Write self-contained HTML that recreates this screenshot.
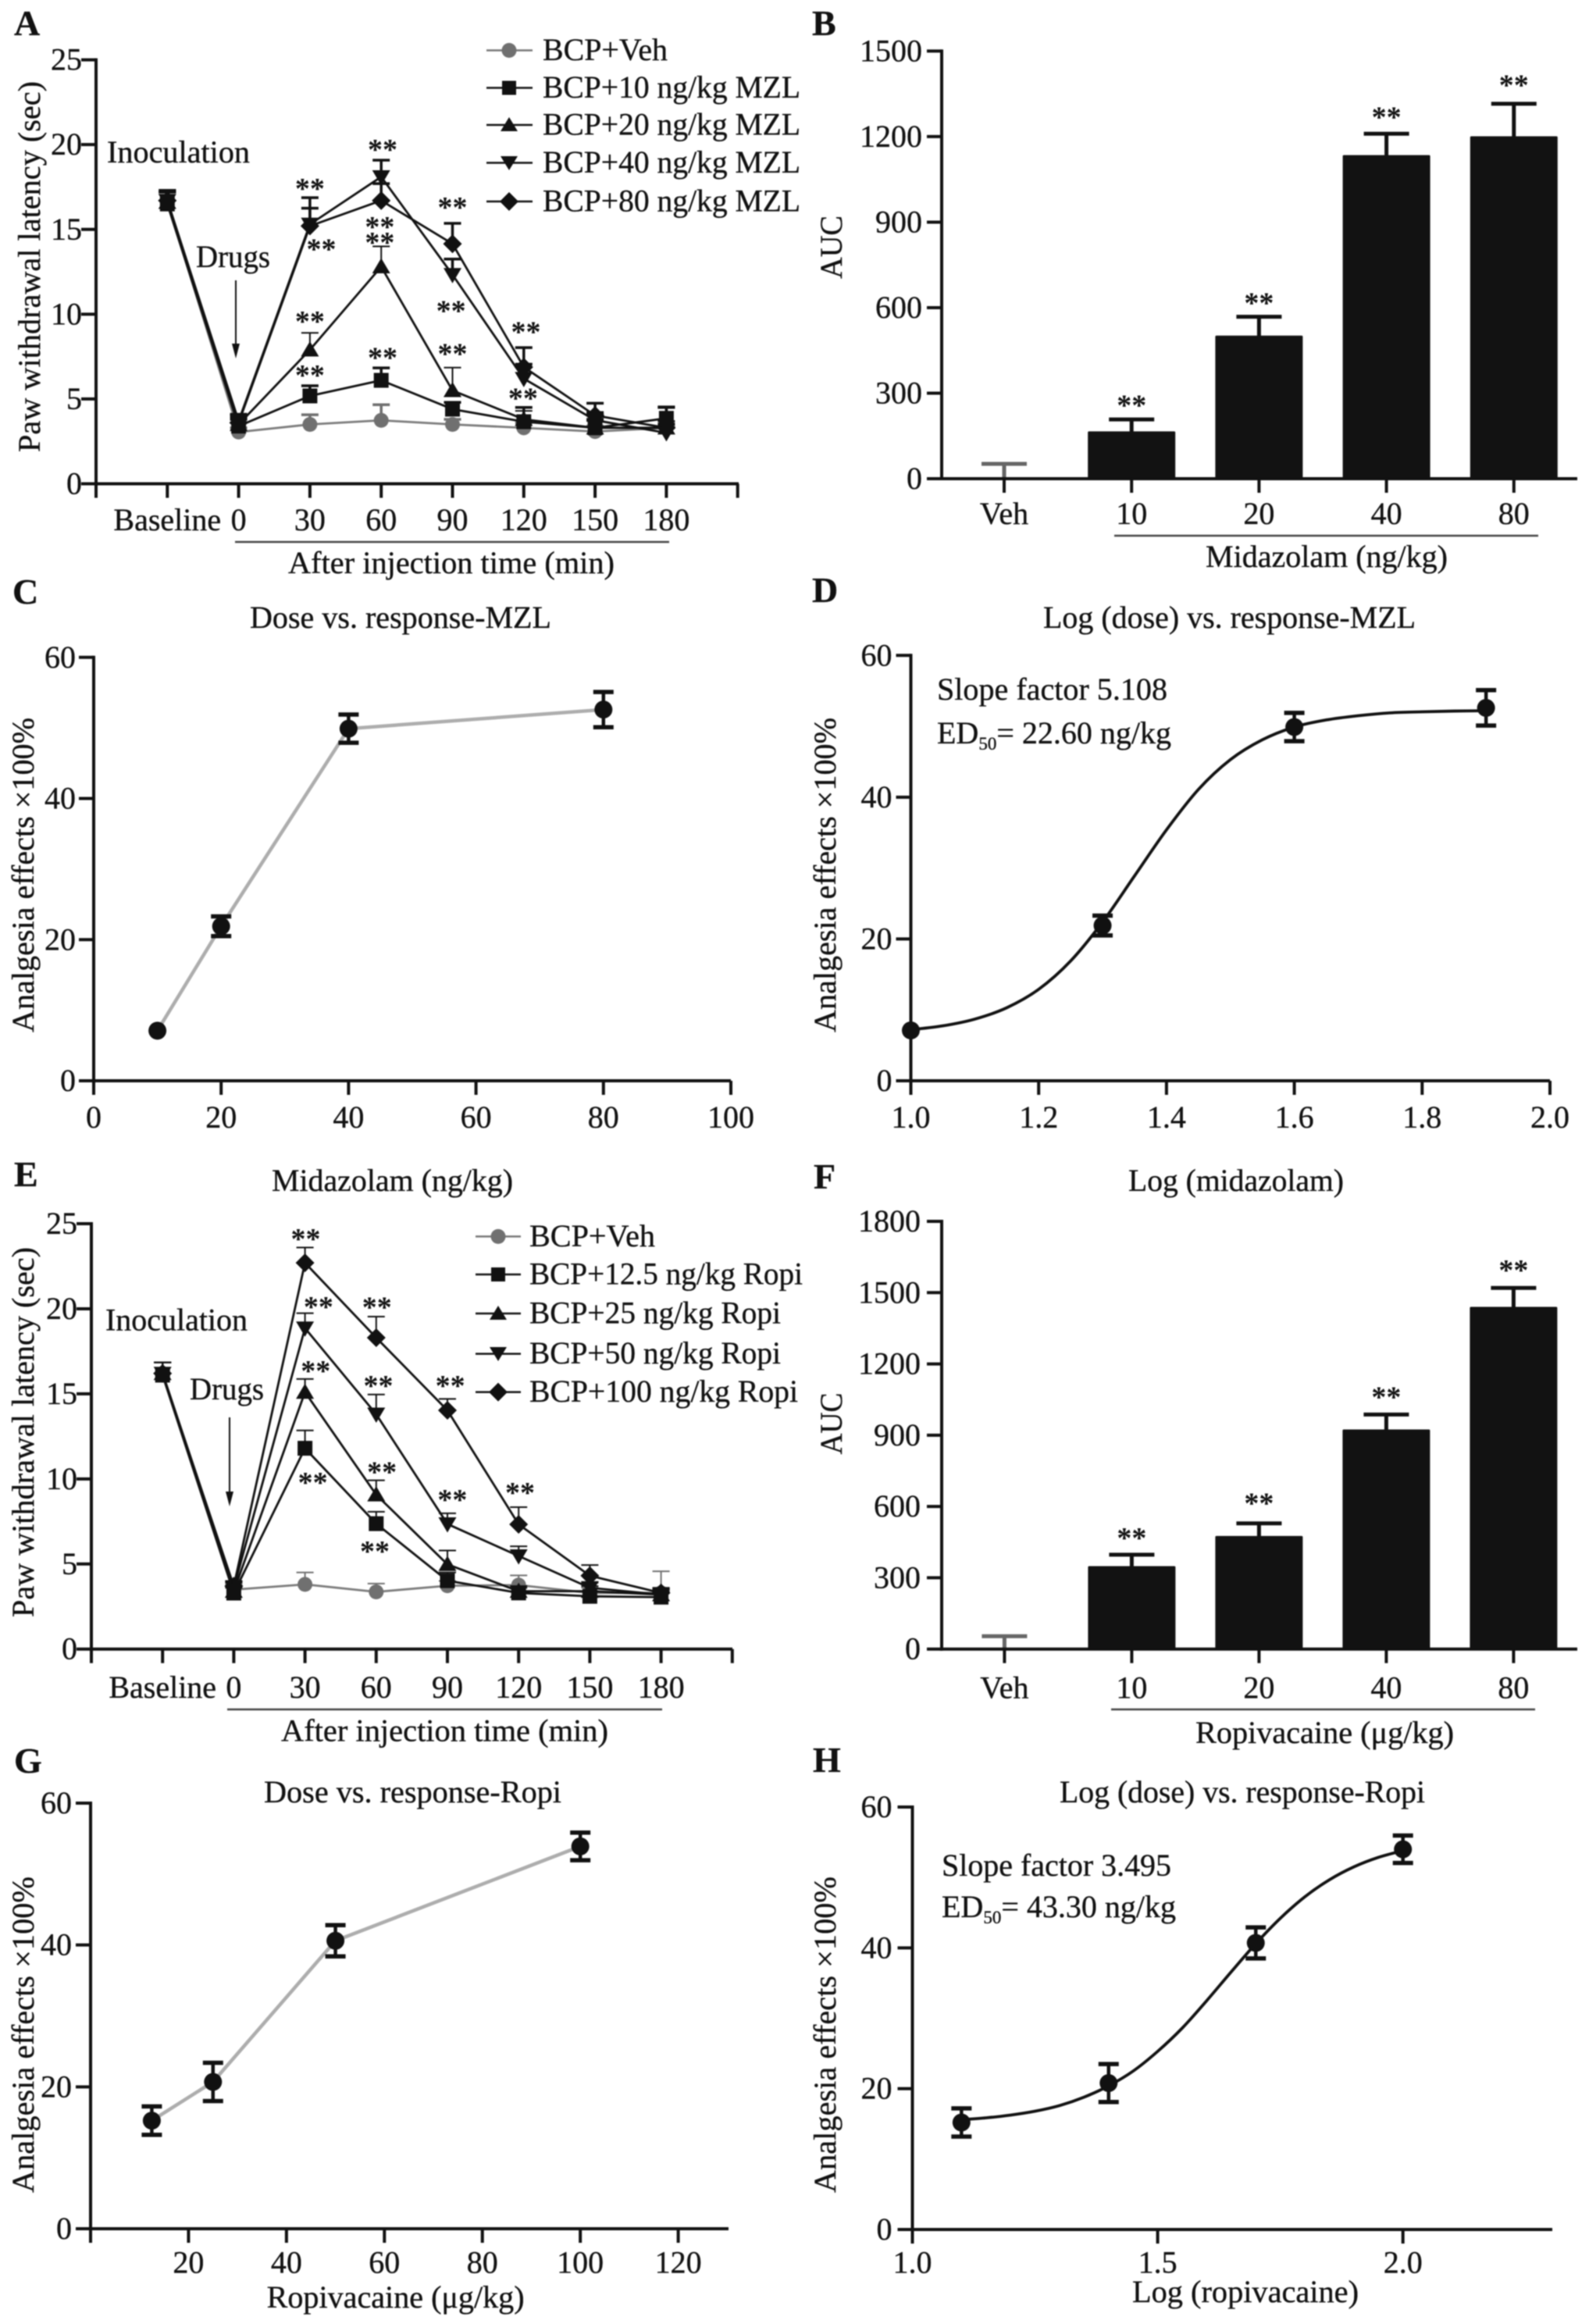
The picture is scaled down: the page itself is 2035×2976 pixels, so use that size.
<!DOCTYPE html>
<html lang="en">
<head>
<meta charset="utf-8">
<title>Analgesia dose-response figure</title>
<style>
html,body{margin:0;padding:0;background:#fff;}
#figure{display:block;width:2035px;height:2976px;filter:blur(.7px);}
text{font-family:"Liberation Serif",serif;fill:#111;font-size:40px;stroke:#111;stroke-width:.35px;}
.letter{font-weight:bold;font-size:46px;}
.mid{text-anchor:middle;}
</style>
</head>
<body>
<svg id="figure" xmlns="http://www.w3.org/2000/svg" width="2035" height="2976" viewBox="0 0 2035 2976">
<rect width="2035" height="2976" fill="#fff"/>

<g id="panel-a">
  <text class="letter" x="18" y="45">A</text>
  <text class="mid" x="0" y="0" transform="translate(51 341.5) rotate(-90)" textLength="475" lengthAdjust="spacingAndGlyphs">Paw withdrawal latency (sec)</text>
  <text x="137" y="208" textLength="183" lengthAdjust="spacingAndGlyphs">Inoculation</text>
  <text x="251" y="342" textLength="95" lengthAdjust="spacingAndGlyphs">Drugs</text>
  <g><line x1="302" y1="359" x2="302" y2="445" stroke="#111" stroke-width="2"/><polygon points="297,440 307,440 302,459" fill="#111"/></g>
  <line x1="301" y1="694" x2="857" y2="694" stroke="#444" stroke-width="2.5"/>
  <text x="369" y="734" textLength="418" lengthAdjust="spacingAndGlyphs">After injection time (min)</text>
  <g>
    <g><line x1="623" y1="64.5" x2="682" y2="64.5" stroke="#777" stroke-width="2.5"/><circle cx="652" cy="64.5" r="9.5" fill="#707070"/><text x="695" y="77" textLength="160" lengthAdjust="spacingAndGlyphs">BCP+Veh</text></g>
    <g><line x1="623" y1="112.5" x2="682" y2="112.5" stroke="#111" stroke-width="2.5"/><rect x="643" y="103.5" width="18" height="18" fill="#111"/><text x="695" y="125" textLength="330" lengthAdjust="spacingAndGlyphs">BCP+10 ng/kg MZL</text></g>
    <g><line x1="623" y1="160" x2="682" y2="160" stroke="#111" stroke-width="2.5"/><polygon points="641,168 663,168 652,150" fill="#111"/><text x="695" y="172.5" textLength="330" lengthAdjust="spacingAndGlyphs">BCP+20 ng/kg MZL</text></g>
    <g><line x1="623" y1="208.5" x2="682" y2="208.5" stroke="#111" stroke-width="2.5"/><polygon points="641,200 663,200 652,218" fill="#111"/><text x="695" y="221" textLength="330" lengthAdjust="spacingAndGlyphs">BCP+40 ng/kg MZL</text></g>
    <g><line x1="623" y1="258" x2="682" y2="258" stroke="#111" stroke-width="2.5"/><polygon points="652,246 664,258 652,270 640,258" fill="#111"/><text x="695" y="270.5" textLength="330" lengthAdjust="spacingAndGlyphs">BCP+80 ng/kg MZL</text></g>
  </g>
</g>

<g id="panel-b">
  <text class="letter" x="1040" y="45">B</text>
  <text class="mid" x="0" y="0" transform="translate(1078 316.5) rotate(-90)" textLength="81" lengthAdjust="spacingAndGlyphs">AUC</text>
  <line x1="1427" y1="686" x2="1970" y2="686" stroke="#444" stroke-width="2.5"/>
  <text x="1544" y="726" textLength="310" lengthAdjust="spacingAndGlyphs">Midazolam (ng/kg)</text>
</g>

<g id="panel-c">
  <text class="letter" x="16" y="773">C</text>
  <text x="320" y="804" textLength="386" lengthAdjust="spacingAndGlyphs">Dose vs. response-MZL</text>
  <text class="mid" x="0" y="0" transform="translate(43 1120.5) rotate(-90)" textLength="403" lengthAdjust="spacingAndGlyphs">Analgesia effects ×100%</text>
  <text x="348" y="1525" textLength="309" lengthAdjust="spacingAndGlyphs">Midazolam (ng/kg)</text>
</g>

<g id="panel-d">
  <text class="letter" x="1040" y="771">D</text>
  <text x="1336" y="804" textLength="477" lengthAdjust="spacingAndGlyphs">Log (dose) vs. response-MZL</text>
  <text class="mid" x="0" y="0" transform="translate(1070 1120.5) rotate(-90)" textLength="403" lengthAdjust="spacingAndGlyphs">Analgesia effects ×100%</text>
  <text x="1445" y="1525" textLength="276" lengthAdjust="spacingAndGlyphs">Log (midazolam)</text>
  <text x="1200" y="896" textLength="295" lengthAdjust="spacingAndGlyphs">Slope factor 5.108</text>
  <text x="1200" y="952">ED<tspan dy="8" style="font-size:23px">50</tspan><tspan dy="-8">= 22.60 ng/kg</tspan></text>
</g>

<g id="panel-e">
  <text class="letter" x="18" y="1519">E</text>
  <text class="mid" x="0" y="0" transform="translate(43 1834) rotate(-90)" textLength="474" lengthAdjust="spacingAndGlyphs">Paw withdrawal latency (sec)</text>
  <text x="135" y="1703.6" textLength="182" lengthAdjust="spacingAndGlyphs">Inoculation</text>
  <text x="243" y="1792" textLength="95" lengthAdjust="spacingAndGlyphs">Drugs</text>
  <g><line x1="294" y1="1815" x2="294" y2="1915" stroke="#111" stroke-width="2"/><polygon points="289,1910 299,1910 294,1929" fill="#111"/></g>
  <line x1="291" y1="2189" x2="848" y2="2189" stroke="#444" stroke-width="2.5"/>
  <text x="360" y="2229.5" textLength="419" lengthAdjust="spacingAndGlyphs">After injection time (min)</text>
  <g>
    <g><line x1="609" y1="1583.4" x2="667" y2="1583.4" stroke="#777" stroke-width="2.5"/><circle cx="638" cy="1583.4" r="9.5" fill="#707070"/><text x="678" y="1596" textLength="161" lengthAdjust="spacingAndGlyphs">BCP+Veh</text></g>
    <g><line x1="609" y1="1632" x2="667" y2="1632" stroke="#111" stroke-width="2.5"/><rect x="629" y="1623" width="18" height="18" fill="#111"/><text x="678" y="1644.5" textLength="350" lengthAdjust="spacingAndGlyphs">BCP+12.5 ng/kg Ropi</text></g>
    <g><line x1="609" y1="1682" x2="667" y2="1682" stroke="#111" stroke-width="2.5"/><polygon points="627,1690 649,1690 638,1672" fill="#111"/><text x="678" y="1694.5" textLength="322" lengthAdjust="spacingAndGlyphs">BCP+25 ng/kg Ropi</text></g>
    <g><line x1="609" y1="1733.6" x2="667" y2="1733.6" stroke="#111" stroke-width="2.5"/><polygon points="627,1725 649,1725 638,1743" fill="#111"/><text x="678" y="1746" textLength="322" lengthAdjust="spacingAndGlyphs">BCP+50 ng/kg Ropi</text></g>
    <g><line x1="609" y1="1782.6" x2="667" y2="1782.6" stroke="#111" stroke-width="2.5"/><polygon points="638,1770.6 650,1782.6 638,1794.6 626,1782.6" fill="#111"/><text x="678" y="1795" textLength="344" lengthAdjust="spacingAndGlyphs">BCP+100 ng/kg Ropi</text></g>
  </g>
</g>

<g id="panel-f">
  <text class="letter" x="1042" y="1522">F</text>
  <text class="mid" x="0" y="0" transform="translate(1078 1823) rotate(-90)" textLength="79" lengthAdjust="spacingAndGlyphs">AUC</text>
  <line x1="1423" y1="2189" x2="1966" y2="2189" stroke="#444" stroke-width="2.5"/>
  <text x="1531" y="2232" textLength="331" lengthAdjust="spacingAndGlyphs">Ropivacaine (μg/kg)</text>
</g>

<g id="panel-g">
  <text class="letter" x="18" y="2270">G</text>
  <text x="338" y="2308" textLength="381" lengthAdjust="spacingAndGlyphs">Dose vs. response-Ropi</text>
  <text class="mid" x="0" y="0" transform="translate(43 2605.5) rotate(-90)" textLength="405" lengthAdjust="spacingAndGlyphs">Analgesia effects ×100%</text>
  <text x="341.6" y="2955" textLength="330" lengthAdjust="spacingAndGlyphs">Ropivacaine (μg/kg)</text>
</g>

<g id="panel-h">
  <text class="letter" x="1041" y="2269">H</text>
  <text x="1357" y="2308" textLength="468" lengthAdjust="spacingAndGlyphs">Log (dose) vs. response-Ropi</text>
  <text class="mid" x="0" y="0" transform="translate(1070 2605.5) rotate(-90)" textLength="405" lengthAdjust="spacingAndGlyphs">Analgesia effects ×100%</text>
  <text x="1450" y="2948" textLength="290" lengthAdjust="spacingAndGlyphs">Log (ropivacaine)</text>
  <text x="1206" y="2402" textLength="294" lengthAdjust="spacingAndGlyphs">Slope factor 3.495</text>
  <text x="1206" y="2455">ED<tspan dy="8" style="font-size:23px">50</tspan><tspan dy="-8">= 43.30 ng/kg</tspan></text>
</g>
</svg>

<script>
/* ---------- Panel A data ---------- */
const aCategories = ['Baseline', '0', '30', '60', '90', '120', '150', '180'];
const aYTicks = [0, 5, 10, 15, 20, 25];
const aVeh = [16.6, 3.05, 3.5, 3.74, 3.5, 3.3, 3.08, 3.3];
const aVehTop = [17.2, 3.3, 4.07, 4.66, 3.8, 3.6, 3.4, 3.6];
const a10 = [16.5, 3.4, 5.18, 6.1, 4.4, 3.66, 3.3, 3.86];
const a10Top = [17.2, 3.8, 5.78, 6.83, 4.8, 4.5, 3.8, 4.53];
const a20 = [16.6, 3.5, 7.9, 12.8, 5.5, 3.8, 3.3, 3.3];
const a20Top = [17.2, 3.9, 8.9, 14, 6.85, 4.3, 3.7, 3.7];
const a40 = [16.7, 3.7, 15.3, 18.1, 12.33, 6.2, 3.75, 3.0];
const a40Top = [17.3, 4.1, 16.25, 19.08, 13.25, 7.05, 4.2, 3.5];
const a80 = [16.7, 3.6, 15.2, 16.7, 14.15, 6.88, 4.03, 3.3];
const a80Top = [17.3, 4, 16.87, 17.7, 15.36, 8.03, 4.75, 4.5];
const aStarCat = [2, 2.16, 2, 2, 3.02, 2.98, 2.98, 3.02, 4, 3.98, 4, 5.03, 4.99];
const aStarValue = [17.66, 14.1, 9.83, 6.65, 19.96, 15.4, 14.48, 7.68, 16.55, 10.46, 7.91, 9.22, 5.3];

/* ---------- Panel B data ---------- */
const bCategories = ['Veh', '10', '20', '40', '80'];
const bYTicks = [0, 300, 600, 900, 1200, 1500];
const bValues = [0, 166, 502, 1135, 1201];
const bErrTop = [52, 208, 568, 1210, 1315];
const bStars = [null, 272, 631, 1284, 1395];

/* ---------- Panel C data ---------- */
const cXTicks = [0, 20, 40, 60, 80, 100];
const cYTicks = [0, 20, 40, 60];
const cDose = [10, 20, 40, 80];
const cEffect = [7.1, 21.9, 49.9, 52.6];
const cErr = [0, 1.4, 2, 2.5];

/* ---------- Panel D data ---------- */
const dXTicks = ['1.0', '1.2', '1.4', '1.6', '1.8', '2.0'];
const dYTicks = [0, 20, 40, 60];
const dLogDose = [1.0, 1.3, 1.6, 1.9];
const dEffect = [7.1, 21.9, 49.9, 52.6];
const dErr = [0, 1.4, 2, 2.5];
const dCurveX = [1.0, 1.05, 1.1, 1.15, 1.2, 1.25, 1.3, 1.35, 1.4, 1.45, 1.5, 1.55, 1.6, 1.65, 1.7, 1.75, 1.8, 1.85, 1.9];
const dCurveY = [7.2, 7.75, 8.7, 10.3, 12.9, 16.9, 22.4, 28.9, 35.4, 41.1, 45.3, 48.1, 49.9, 50.9, 51.5, 51.9, 52.05, 52.15, 52.2];

/* ---------- Panel E data ---------- */
const eCategories = ['Baseline', '0', '30', '60', '90', '120', '150', '180'];
const eYTicks = [0, 5, 10, 15, 20, 25];
const eVeh = [16.2, 3.49, 3.8, 3.36, 3.72, 3.76, 3.3, 3.3];
const eVehTop = [16.85, 3.8, 4.5, 3.85, 4.0, 4.33, 3.6, 4.57];
const e125 = [16.1, 3.29, 11.8, 7.37, 4.02, 3.3, 3.1, 3.05];
const e125Top = [16.85, 3.6, 12.85, 8.07, 4.5, 3.6, 3.4, 3.4];
const e25 = [16.2, 3.4, 15.1, 9.07, 4.98, 3.4, 3.4, 3.2];
const e25Top = [16.85, 3.7, 15.87, 9.92, 5.79, 3.7, 3.7, 3.5];
const e50 = [16.2, 3.6, 18.86, 13.8, 7.35, 5.47, 3.6, 3.2];
const e50Top = [16.85, 3.9, 19.74, 14.96, 7.98, 6.04, 3.9, 3.5];
const e100 = [16.2, 3.7, 22.7, 18.3, 14.03, 7.33, 4.31, 3.3];
const e100Top = [16.85, 4, 23.6, 19.54, 14.7, 8.34, 4.94, 3.6];
const eStarCat = [2.01, 2.19, 2.15, 2.11, 3.01, 3.03, 3.08, 2.98, 4.04, 4.07, 5.02];
const eStarValue = [24.36, 20.36, 16.6, 10.04, 20.35, 15.73, 10.65, 6.0, 15.73, 9.03, 9.44];

/* ---------- Panel F data ---------- */
const fCategories = ['Veh', '10', '20', '40', '80'];
const fYTicks = [0, 300, 600, 900, 1200, 1500, 1800];
const fValues = [0, 349, 476, 924, 1440];
const fErrTop = [54, 397, 529, 987, 1520];
const fStars = [null, 486, 632, 1078, 1612];

/* ---------- Panel G data ---------- */
const gXTicks = [20, 40, 60, 80, 100, 120];
const gYTicks = [0, 20, 40, 60];
const gDose = [12.5, 25, 50, 100];
const gEffect = [15.24, 20.7, 40.6, 53.9];
const gErr = [2, 2.7, 2.2, 1.95];

/* ---------- Panel H data ---------- */
const hXTicks = ['1.0', '1.5', '2.0'];
const hYTicks = [0, 20, 40, 60];
const hLogDose = [1.1, 1.4, 1.7, 2.0];
const hEffect = [15.2, 20.8, 40.7, 54];
const hErr = [2, 2.7, 2.2, 1.95];
const hCurveX = [1.1, 1.15, 1.2, 1.25, 1.3, 1.35, 1.4, 1.45, 1.5, 1.55, 1.6, 1.65, 1.7, 1.75, 1.8, 1.85, 1.9, 1.95, 2.0];
const hCurveY = [15.6, 15.86, 16.25, 16.8, 17.6, 18.8, 20.4, 22.5, 25.3, 28.6, 32.5, 36.6, 40.6, 44.2, 47.25, 49.66, 51.5, 52.85, 53.8];

/* ---------- Drawing helpers ---------- */
const NS = 'http://www.w3.org/2000/svg';
const INK = '#111';
const GREY = '#707070';

function make(tag, parent, attrs) {
  const node = document.createElementNS(NS, tag);
  for (const key in attrs) node.setAttribute(key, attrs[key]);
  parent.appendChild(node);
  return node;
}

function linear(d0, d1, r0, r1) {
  return function (v) { return r0 + (v - d0) * (r1 - r0) / (d1 - d0); };
}

function drawYAxis(g, frame, ticks, y) {
  const axis = make('line', g, { x1: frame.x0, y1: frame.yTop - 2, x2: frame.x0, y2: frame.yBottom + 2, stroke: INK, 'stroke-width': 4 });
  
  
  ticks.forEach(function (t) {
    const tick = make('line', g, { x1: frame.x0 - 19, y1: y(t), x2: frame.x0, y2: y(t), stroke: INK, 'stroke-width': 4 });
    
    
    const label = make('text', g, { x: frame.x0 - frame.labelGap, y: y(t) + 13, 'text-anchor': 'end' });
    label.textContent = t;
    
    
  });
}

function drawXBaseline(g, frame) {
  const axis = make('line', g, { x1: frame.x0 - 2, y1: frame.yBottom, x2: frame.xEnd, y2: frame.yBottom, stroke: INK, 'stroke-width': 4 });
  
  
}

function drawXTick(g, frame, px, text) {
  const tick = make('line', g, { x1: px, y1: frame.yBottom, x2: px, y2: frame.yBottom + 18, stroke: INK, 'stroke-width': 4 });
  
  
  if (text !== null) {
    const label = make('text', g, { x: px, y: frame.labelY, 'text-anchor': 'middle' });
    label.textContent = text;
    
    
  }
}

function drawMarker(g, kind, x, y, color, name) {
  let m;
  if (kind === 'circle') {
    m = make('circle', g, { cx: x, cy: y, r: 9.5, fill: color });
  } else if (kind === 'dot') {
    m = make('circle', g, { cx: x, cy: y, r: 11.5, fill: color });
  } else if (kind === 'square') {
    m = make('rect', g, { x: x - 9.5, y: y - 9.5, width: 19, height: 19, fill: color });
  } else if (kind === 'up') {
    m = make('polygon', g, { points: (x - 11.5) + ',' + (y + 8.5) + ' ' + (x + 11.5) + ',' + (y + 8.5) + ' ' + x + ',' + (y - 11), fill: color });
  } else if (kind === 'down') {
    m = make('polygon', g, { points: (x - 11.5) + ',' + (y - 8.5) + ' ' + (x + 11.5) + ',' + (y - 8.5) + ' ' + x + ',' + (y + 11), fill: color });
  } else {
    m = make('polygon', g, { points: x + ',' + (y - 12) + ' ' + (x + 12) + ',' + y + ' ' + x + ',' + (y + 12) + ' ' + (x - 12) + ',' + y, fill: color });
  }
  
  
}

function drawStars(g, x, y) {
  const star = make('text', g, { x: x, y: y + 18, 'text-anchor': 'middle', style: 'font-size:38px;font-weight:bold;stroke-width:0' });
  star.textContent = '**';
  
  
}

function drawWhisker(g, x, yFrom, yTo, half, width, color, name) {
  const stem = make('line', g, { x1: x, y1: yFrom, x2: x, y2: yTo, stroke: color, 'stroke-width': width });
  
  
  const cap = make('line', g, { x1: x - half, y1: yTo, x2: x + half, y2: yTo, stroke: color, 'stroke-width': width });
  
  
}

function drawTimeCourse(id, frame, categories, yTicks, series, starCat, starValue) {
  const g = document.getElementById(id);
  const y = linear(0, yTicks[yTicks.length - 1], frame.yBottom, frame.yTop);
  const x = function (i) { return frame.x0 + (i + 1) * frame.step; };
  drawYAxis(g, frame, yTicks, y);
  drawXBaseline(g, frame);
  drawXTick(g, frame, frame.x0, null);
  categories.forEach(function (c, i) { drawXTick(g, frame, x(i), c); });
  drawXTick(g, frame, x(categories.length), null);
  series.forEach(function (s) {
    const pts = s.values.map(function (v, i) { return x(i) + ',' + y(v); }).join(' ');
    const line = make('polyline', g, { points: pts, fill: 'none', stroke: s.color === GREY ? '#7c7c7c' : INK, 'stroke-width': 2.8, 'stroke-linejoin': 'round' });
    
    
    s.values.forEach(function (v, i) {
      drawWhisker(g, x(i), y(v), y(s.top[i]), 11, s.errWidth, s.color, 'error-bar-' + s.name);
      drawMarker(g, s.kind, x(i), y(v), s.color, 'point-' + s.name);
    });
  });
  starCat.forEach(function (c, i) { drawStars(g, x(c), y(starValue[i])); });
}

function drawBarPanel(id, frame, categories, yTicks, values, errTop, stars) {
  const g = document.getElementById(id);
  const y = linear(0, yTicks[yTicks.length - 1], frame.yBottom, frame.yTop);
  const x = function (i) { return frame.xFirst + i * frame.step; };
  categories.forEach(function (c, i) {
    const color = i === 0 ? '#666' : INK;
    drawWhisker(g, x(i), frame.yBottom, y(errTop[i]), 29, 5, color, 'error-bar');
    if (values[i] > 0) {
      const bar = make('rect', g, { x: x(i) - 56, y: y(values[i]), width: 112, height: frame.yBottom - y(values[i]), fill: '#121212', rx: 1.5 });
      
      
    }
    drawXTick(g, frame, x(i), c);
    if (stars[i] !== null) drawStars(g, x(i), y(stars[i]));
  });
  drawYAxis(g, frame, yTicks, y);
  drawXBaseline(g, frame);
}

function smoothPath(pts) {
  let d = 'M' + pts[0][0] + ' ' + pts[0][1];
  for (let i = 0; i < pts.length - 1; i++) {
    const p0 = pts[Math.max(i - 1, 0)], p1 = pts[i], p2 = pts[i + 1], p3 = pts[Math.min(i + 2, pts.length - 1)];
    d += ' C' + (p1[0] + (p2[0] - p0[0]) / 6) + ' ' + (p1[1] + (p2[1] - p0[1]) / 6) + ' ' + (p2[0] - (p3[0] - p1[0]) / 6) + ' ' + (p2[1] - (p3[1] - p1[1]) / 6) + ' ' + p2[0] + ' ' + p2[1];
  }
  return d;
}

function drawPoints(g, xs, ys, errs, x, y) {
  xs.forEach(function (v, i) {
    if (errs[i] > 0) {
      const low = make('line', g, { x1: x(v), y1: y(ys[i] - errs[i]), x2: x(v), y2: y(ys[i] + errs[i]), stroke: INK, 'stroke-width': 4.5 });
      
      
      const capTop = make('line', g, { x1: x(v) - 13, y1: y(ys[i] + errs[i]), x2: x(v) + 13, y2: y(ys[i] + errs[i]), stroke: INK, 'stroke-width': 5.5 });
      
      
      const capLow = make('line', g, { x1: x(v) - 13, y1: y(ys[i] - errs[i]), x2: x(v) + 13, y2: y(ys[i] - errs[i]), stroke: INK, 'stroke-width': 5.5 });
      
      
    }
    drawMarker(g, 'dot', x(v), y(ys[i]), INK, 'data-point');
  });
}

function drawDosePanel(id, frame, xTicks, xMax, yTicks, dose, effect, err) {
  const g = document.getElementById(id);
  const y = linear(0, yTicks[yTicks.length - 1], frame.yBottom, frame.yTop);
  const x = linear(0, xMax, frame.x0, frame.xAtMax);
  drawYAxis(g, frame, yTicks, y);
  drawXBaseline(g, frame);
  if (xTicks[0] !== 0) drawXTick(g, frame, frame.x0, null);
  xTicks.forEach(function (t) { drawXTick(g, frame, x(t), t); });
  const pts = dose.map(function (d, i) { return x(d) + ',' + y(effect[i]); }).join(' ');
  const line = make('polyline', g, { points: pts, fill: 'none', stroke: '#adadad', 'stroke-width': 4.5, 'stroke-linejoin': 'round' });
  
  
  drawPoints(g, dose, effect, err, x, y);
}

function drawLogPanel(id, frame, xTicks, xMin, xMax, yTicks, logDose, effect, err, curveX, curveY) {
  const g = document.getElementById(id);
  const y = linear(0, yTicks[yTicks.length - 1], frame.yBottom, frame.yTop);
  const x = linear(xMin, xMax, frame.x0, frame.xAtMax);
  drawYAxis(g, frame, yTicks, y);
  drawXBaseline(g, frame);
  xTicks.forEach(function (t) { drawXTick(g, frame, x(parseFloat(t)), t); });
  const curve = make('path', g, { d: smoothPath(curveX.map(function (v, i) { return [x(v), y(curveY[i])]; })), fill: 'none', stroke: INK, 'stroke-width': 3.8 });
  
  
  drawPoints(g, logDose, effect, err, x, y);
}

/* ---------- Render all panels ---------- */
drawTimeCourse('panel-a', { x0: 123, xEnd: 946, yBottom: 619.5, yTop: 76.6, step: 91.3, labelGap: 18, labelY: 679 }, aCategories, aYTicks, [
  { name: 'veh', kind: 'circle', color: GREY, errWidth: 3.5, values: aVeh, top: aVehTop },
  { name: '80', kind: 'diamond', color: INK, errWidth: 3.5, values: a80, top: a80Top },
  { name: '40', kind: 'down', color: INK, errWidth: 3.5, values: a40, top: a40Top },
  { name: '20', kind: 'up', color: INK, errWidth: 2, values: a20, top: a20Top },
  { name: '10', kind: 'square', color: INK, errWidth: 3.5, values: a10, top: a10Top }
], aStarCat, aStarValue);

drawBarPanel('panel-b', { x0: 1206, xEnd: 2020, yBottom: 613, yTop: 65.4, xFirst: 1286, step: 163.2, labelGap: 25, labelY: 671 }, bCategories, bYTicks, bValues, bErrTop, bStars);

drawDosePanel('panel-c', { x0: 120, xEnd: 936, yBottom: 1384, yTop: 841.8, xAtMax: 936, labelGap: 23, labelY: 1444 }, cXTicks, 100, cYTicks, cDose, cEffect, cErr);

drawLogPanel('panel-d', { x0: 1166.5, xEnd: 1985, yBottom: 1384, yTop: 839.3, xAtMax: 1985, labelGap: 24, labelY: 1444 }, dXTicks, 1, 2, dYTicks, dLogDose, dEffect, dErr, dCurveX, dCurveY);

drawTimeCourse('panel-e', { x0: 117, xEnd: 938, yBottom: 2111.7, yTop: 1567, step: 91.2, labelGap: 18, labelY: 2174 }, eCategories, eYTicks, [
  { name: 'veh', kind: 'circle', color: GREY, errWidth: 2, values: eVeh, top: eVehTop },
  { name: '100', kind: 'diamond', color: INK, errWidth: 2, values: e100, top: e100Top },
  { name: '50', kind: 'down', color: INK, errWidth: 2, values: e50, top: e50Top },
  { name: '25', kind: 'up', color: INK, errWidth: 2, values: e25, top: e25Top },
  { name: '12-5', kind: 'square', color: INK, errWidth: 2, values: e125, top: e125Top }
], eStarCat, eStarValue);

drawBarPanel('panel-f', { x0: 1206, xEnd: 2020, yBottom: 2111.7, yTop: 1564, xFirst: 1286.4, step: 163, labelGap: 27, labelY: 2174.7 }, fCategories, fYTicks, fValues, fErrTop, fStars);

drawDosePanel('panel-g', { x0: 116, xEnd: 933, yBottom: 2854, yTop: 2309, xAtMax: 868.6, labelGap: 24, labelY: 2910.5 }, gXTicks, 120, gYTicks, gDose, gEffect, gErr);

drawLogPanel('panel-h', { x0: 1168.5, xEnd: 1988, yBottom: 2855, yTop: 2314, xAtMax: 1796.7, labelGap: 26, labelY: 2910.5 }, hXTicks, 1, 2, hYTicks, hLogDose, hEffect, hErr, hCurveX, hCurveY);
</script>
</body>
</html>
